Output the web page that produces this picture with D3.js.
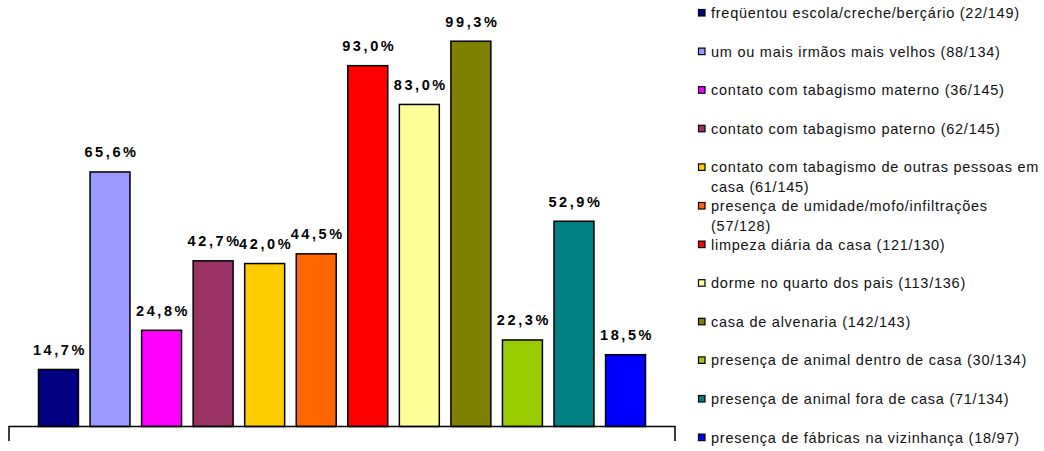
<!DOCTYPE html>
<html>
<head>
<meta charset="utf-8">
<script src="https://cdn.jsdelivr.net/npm/d3@7"></script>
<style>
  html, body { margin: 0; padding: 0; background: #fff; }
  svg { display: block; }
  text { font-family: "Liberation Sans", Arial, sans-serif; }
</style>
</head>
<body>
<svg id="chart" width="1044" height="451"></svg>
<script>
// Fatores avaliados (rótulo da legenda, com n/N)
const categories = [
  "freqüentou escola/creche/berçário (22/149)",
  "um ou mais irmãos mais velhos (88/134)",
  "contato com tabagismo materno (36/145)",
  "contato com tabagismo paterno (62/145)",
  "contato com tabagismo de outras pessoas em casa (61/145)",
  "presença de umidade/mofo/infiltrações (57/128)",
  "limpeza diária da casa (121/130)",
  "dorme no quarto dos pais (113/136)",
  "casa de alvenaria (142/143)",
  "presença de animal dentro de casa (30/134)",
  "presença de animal fora de casa (71/134)",
  "presença de fábricas na vizinhança (18/97)"
];

// Percentual de cada fator
const values = [14.7, 65.6, 24.8, 42.7, 42.0, 44.5, 93.0, 83.0, 99.3, 22.3, 52.9, 18.5];

const colors = [
  "#000080", "#9999FF", "#FF00FF", "#993366", "#FFCC00", "#FF6600",
  "#FF0000", "#FFFF99", "#808000", "#99CC00", "#008080", "#0000FF"
];

const svg = d3.select("#chart");
const baseY = 426.5;

const x = d3.scaleBand()
  .domain(categories)
  .range([9, 675])
  .paddingInner(0.225)
  .paddingOuter(0.572);

const y = d3.scaleLinear()
  .domain([0, 100])
  .range([baseY, 38.5]);

const fmt = v => d3.format(".1f")(v).replace(".", ",") + "%";

// Barras
svg.append("g")
  .selectAll("rect")
  .data(values)
  .join("rect")
  .attr("x", (d, i) => x(categories[i]))
  .attr("y", d => y(d))
  .attr("width", x.bandwidth())
  .attr("height", d => y(0) - y(d))
  .attr("fill", (d, i) => colors[i])
  .attr("stroke", "#000")
  .attr("stroke-width", 1.5);

// Rótulos de valor
svg.append("g")
  .selectAll("text")
  .data(values)
  .join("text")
  .attr("x", (d, i) => x(categories[i]) + x.bandwidth() / 2 + 1.5)
  .attr("y", d => y(d) - 14.5)
  .attr("text-anchor", "middle")
  .attr("font-size", 14.5)
  .attr("font-weight", "bold")
  .attr("letter-spacing", 2.6)
  .attr("fill", "#000")
  .text(d => fmt(d));

// Eixo horizontal com as marcas nas extremidades
const [x0, x1] = x.range();
svg.append("path")
  .attr("d", `M${x0},441V${baseY}H${x1}V441`)
  .attr("fill", "none")
  .attr("stroke", "#000")
  .attr("stroke-width", 1.5);

// Legenda
const legend = svg.append("g").attr("transform", "translate(698,0)");
const maxTextWidth = 334;
const entryTops = d3.range(categories.length).map(i => 13 + i * 38.6);

categories.forEach((label, i) => {
  const g = legend.append("g").attr("transform", `translate(0,${entryTops[i]})`);
  g.append("rect")
    .attr("x", 0.5)
    .attr("y", -3.5)
    .attr("width", 6.5)
    .attr("height", 6.5)
    .attr("fill", colors[i])
    .attr("stroke", "#000")
    .attr("stroke-width", 1.2);
  const t = g.append("text")
    .attr("x", 13)
    .attr("y", 5)
    .attr("font-size", 14.5)
    .attr("letter-spacing", 0.75)
    .attr("fill", "#111");
  // quebra de linha por largura
  const words = label.split(" ");
  let line = [];
  let tspan = t.append("tspan").attr("x", 13).attr("dy", 0);
  words.forEach(w => {
    line.push(w);
    tspan.text(line.join(" "));
    if (tspan.node().getComputedTextLength() > maxTextWidth && line.length > 1) {
      line.pop();
      tspan.text(line.join(" "));
      line = [w];
      tspan = t.append("tspan").attr("x", 13).attr("dy", 20).text(w);
    }
  });
});
</script>
</body>
</html>
